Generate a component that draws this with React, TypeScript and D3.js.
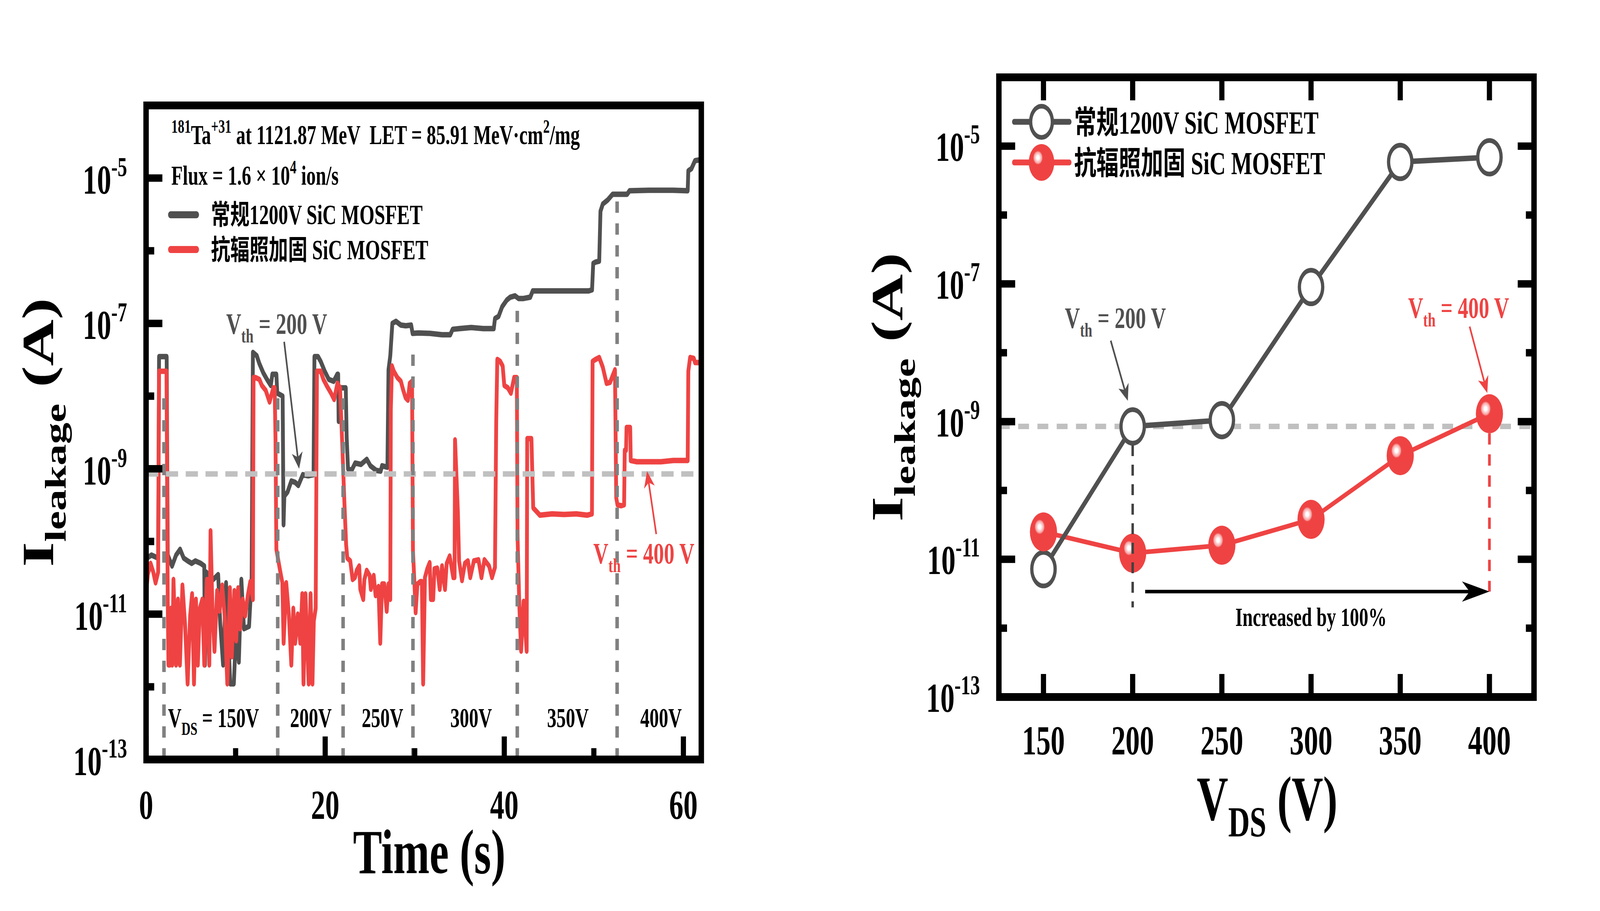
import React, { useEffect } from 'react';
import * as d3 from 'd3';

const W = 5893;
const H = 2333;
const FONT = '"Liberation Serif", "Times New Roman", "Noto Sans CJK SC", serif';
const GRAY = '#505050';
const RED = '#EF4343';
const VTH_LEVEL = 8.5e-10;

// ---- left panel: leakage current vs time ----
const CONV_TRACE: [number, number][] = [
  [0, 1.1e-11], [0.1, 5.9e-11], [0.6, 6.5e-11], [1.35, 5.9e-11], [1.45, 3.5e-8], [2.3, 3.5e-8],
  [2.42, 6.5e-11], [2.9, 4.6e-11], [3.35, 6.5e-11], [3.8, 7.8e-11], [4.2, 5.9e-11], [4.65, 5.4e-11],
  [5.1, 5e-11], [5.5, 5.4e-11], [6.1, 5e-11], [6.5, 4.6e-11], [6.57, 2e-12], [6.7, 3.8e-11],
  [7.5, 3e-11], [8.05, 3.5e-11], [8.28, 7.4e-12], [8.6, 2e-12], [8.93, 2.7e-11], [9.4, 1.1e-12],
  [9.8, 1.1e-12], [10.07, 6.8e-12], [10.36, 2.2e-12], [10.64, 3e-11], [10.93, 6.3e-12], [11.5, 6.8e-12],
  [11.79, 3.2e-11], [11.93, 4e-8], [12.36, 3.6e-8], [12.65, 2.8e-8], [13.08, 2.1e-8], [13.5, 1.7e-8],
  [13.93, 1.4e-8], [14.1, 2e-8], [14.55, 2e-8], [14.65, 1.1e-8], [15.25, 1e-8], [15.35, 1.7e-10],
  [15.44, 4.2e-10], [15.8, 4.8e-10], [16.22, 6.8e-10], [16.65, 6.5e-10], [17.0, 5.9e-10], [17.5, 8.3e-10],
  [18.1, 8e-10], [18.7, 8.3e-10], [18.8, 3.5e-8], [19.2, 3.5e-8], [19.5, 3e-8], [19.95, 2.2e-8],
  [20.4, 1.7e-8], [20.95, 1.6e-8], [21.35, 2e-8], [21.45, 2e-8], [21.5, 4.5e-9], [21.65, 1.3e-8],
  [22.3, 1.3e-8], [22.4, 2.7e-9], [22.55, 1e-9], [22.95, 9.5e-10], [23.35, 1.2e-9], [24.0, 1.15e-9],
  [24.65, 1.35e-9], [25.05, 1.1e-9], [25.7, 9.5e-10], [26.2, 9.3e-10], [26.35, 1.1e-9], [26.95, 1.05e-9],
  [27.07, 2.3e-8], [27.27, 3.6e-8], [27.5, 1e-7], [27.9, 1.07e-7], [28.45, 9.5e-8], [29.0, 9.3e-8],
  [29.6, 9.5e-8], [29.76, 7.3e-8], [30.4, 7.4e-8], [31.7, 7.3e-8], [33.05, 7e-8], [33.97, 7e-8],
  [34.23, 8.3e-8], [35.0, 8.5e-8], [36.3, 8.8e-8], [37.65, 8.5e-8], [38.83, 8.5e-8], [38.96, 1.17e-7],
  [39.36, 1.25e-7], [39.76, 1.7e-7], [40.28, 2.1e-7], [40.67, 2.3e-7], [41.2, 2.4e-7], [41.6, 2.2e-7],
  [42.1, 2.2e-7], [42.9, 2.3e-7], [43.17, 2.8e-7], [45.3, 2.8e-7], [47.4, 2.8e-7], [49.4, 2.8e-7],
  [49.8, 2.9e-7], [49.93, 6.7e-7], [50.2, 7e-7], [50.6, 7.2e-7], [50.74, 3.5e-6], [51.0, 4.4e-6],
  [51.55, 5e-6], [52.1, 6e-6], [52.64, 6e-6], [53.72, 6e-6], [53.99, 6.7e-6], [56.15, 6.8e-6],
  [58.86, 6.8e-6], [60.48, 6.7e-6], [60.55, 1.26e-5], [60.9, 1.35e-5], [61.3, 1.74e-5], [61.8, 1.78e-5],
];

const HARD_TRACE: [number, number][] = [
  [0, 1.9e-11], [0.2, 3.5e-11], [0.5, 5e-11], [0.8, 3.8e-11], [1.06, 2.7e-11], [1.35, 3.8e-11],
  [1.45, 2.2e-8], [2.28, 2.2e-8], [2.42, 1.5e-11], [2.5, 2e-12], [2.65, 2e-12], [2.78, 1.2e-11],
  [2.92, 2e-12], [3.06, 3e-11], [3.35, 2e-12], [3.56, 1.6e-11], [3.78, 2e-12], [4.06, 2.5e-11],
  [4.35, 7.4e-12], [4.64, 1.1e-12], [4.92, 9.5e-12], [5.14, 1.9e-11], [5.35, 1.1e-12], [5.57, 1.6e-11],
  [5.78, 2e-12], [6.0, 1.2e-11], [6.28, 1.6e-11], [6.5, 2e-12], [6.79, 3e-11], [7.06, 2e-12],
  [7.2, 1.4e-10], [7.43, 9.5e-12], [7.64, 3.1e-12], [7.93, 2.1e-11], [8.21, 1.1e-11], [8.5, 2.5e-11],
  [8.79, 9e-12], [9.07, 1.1e-12], [9.36, 2.3e-11], [9.57, 2.6e-12], [9.86, 2.1e-11], [10.07, 4.3e-12],
  [10.28, 2.3e-11], [10.5, 6.3e-12], [10.79, 1.6e-11], [11.07, 9.5e-12], [11.36, 1.8e-11], [11.64, 2.8e-11],
  [11.93, 1.6e-11], [12.0, 1.8e-8], [12.22, 1.8e-8], [12.65, 1.7e-8], [12.93, 1.4e-8], [13.36, 1.2e-8],
  [13.79, 8.3e-9], [14.21, 1.3e-8], [14.36, 1.3e-8], [14.45, 2.7e-9], [14.55, 7.8e-11], [14.93, 4.2e-11],
  [15.22, 2.7e-11], [15.36, 4e-12], [15.65, 2.7e-11], [15.94, 1e-11], [16.22, 2e-12], [16.44, 1.2e-11],
  [16.65, 4e-12], [16.94, 1e-11], [17.22, 4e-12], [17.44, 1.9e-11], [17.58, 1.1e-12], [17.8, 1.9e-11],
  [18.16, 1.1e-12], [18.37, 1.9e-11], [18.58, 1.1e-12], [18.73, 8e-12], [18.94, 1.2e-11], [19.08, 2.2e-8],
  [19.5, 2.2e-8], [19.8, 1.7e-8], [20.23, 1.35e-8], [20.65, 1.1e-8], [21.0, 9e-9], [21.37, 1.5e-8],
  [21.66, 1.3e-8], [21.9, 2.3e-9], [22.14, 3.6e-10], [22.34, 9e-11], [22.47, 5.9e-11], [22.8, 5.4e-11],
  [23.06, 3e-11], [23.33, 3.2e-11], [23.52, 4e-11], [23.8, 4.6e-11], [23.92, 2.2e-11], [24.25, 1.6e-11],
  [24.38, 3e-11], [24.64, 4e-11], [24.97, 3.4e-11], [25.1, 2.2e-11], [25.42, 3.4e-11], [25.63, 1.8e-11],
  [25.95, 2.4e-11], [26.15, 4e-12], [26.35, 2.6e-11], [26.6, 2.6e-11], [26.87, 1.1e-11], [27.07, 2.6e-11],
  [27.27, 1.6e-11], [27.33, 6.5e-9], [27.46, 2.6e-8], [27.66, 2.2e-8], [28.06, 1.8e-8], [28.45, 1.6e-8],
  [28.72, 1.2e-8], [28.98, 9.5e-9], [29.24, 8.8e-9], [29.44, 1.5e-8], [29.7, 1.6e-8], [29.8, 7.6e-11],
  [29.96, 2.8e-11], [30.1, 1.05e-11], [30.3, 2.6e-11], [30.62, 2.8e-11], [30.8, 2.8e-11], [30.94, 1.1e-12],
  [31.14, 3.2e-11], [31.4, 4.2e-11], [31.67, 5.1e-11], [31.8, 1.6e-11], [32.06, 1.6e-11], [32.2, 4.2e-11],
  [32.52, 4.3e-11], [32.79, 2.2e-11], [33.05, 4.6e-11], [33.38, 2.2e-11], [33.57, 5e-11], [33.9, 6.3e-11],
  [34.3, 3.2e-11], [34.45, 3.2e-11], [34.5, 2.5e-9], [34.82, 2.5e-10], [34.95, 5.4e-11], [35.28, 2.9e-11],
  [35.6, 5e-11], [35.94, 5.4e-11], [36.2, 3.2e-11], [36.6, 5.4e-11], [37.12, 5.6e-11], [37.45, 3.2e-11],
  [37.78, 5.6e-11], [38.3, 4.6e-11], [38.63, 3.2e-11], [38.96, 4.4e-11], [39.1, 4.5e-9], [39.22, 3.2e-8],
  [39.55, 3e-8], [39.82, 2.6e-8], [40.0, 1.4e-8], [40.4, 1.3e-8], [40.74, 1.1e-8], [41.1, 1.8e-8],
  [41.4, 1.8e-8], [41.48, 1.2e-10], [41.68, 1.3e-11], [41.88, 3.1e-12], [42.15, 1.5e-11], [42.5, 3.1e-12],
  [42.56, 2.6e-9], [43.03, 2.6e-9], [43.23, 2.9e-10], [43.98, 2.3e-10], [45.33, 2.4e-10], [46.68, 2.35e-10],
  [48.03, 2.4e-10], [49.25, 2.3e-10], [49.79, 2.4e-10], [49.86, 3e-8], [50.2, 3.2e-8], [50.6, 3.4e-8],
  [51.0, 2.5e-8], [51.42, 1.5e-8], [51.82, 1.55e-8], [52.09, 1.9e-8], [52.36, 2.3e-8], [52.5, 4e-10],
  [52.64, 3.2e-10], [53.04, 3.1e-10], [53.38, 3.2e-10], [53.45, 1.8e-9], [53.6, 1.8e-9], [53.65, 3.7e-9],
  [54.06, 3.7e-9], [54.12, 1.3e-9], [54.8, 1.25e-9], [56.15, 1.25e-9], [57.5, 1.25e-9], [58.86, 1.3e-9],
  [60.48, 1.3e-9], [60.55, 2.2e-8], [60.75, 3.4e-8], [61.16, 3.3e-8], [61.3, 2.9e-8], [61.85, 2.9e-8],
];

const STEP_TIMES = [2.0, 14.7, 22.0, 29.8, 41.45, 52.6];
const STEP_TOPS = [1.3e-8, 1.2e-8, 1.2e-8, 5.1e-8, 1.8e-7, 4.9e-6];
const STEP_LABELS = ['150V', '200V', '250V', '300V', '350V', '400V'];
const STEP_LABEL_T = [7.53, 18.4, 26.4, 36.3, 47.1, 57.5];
const TIME_MAJOR = [0, 20, 40, 60];
const TIME_MINOR = [10, 30, 50];

// ---- right panel: leakage vs V_DS ----
const VDS = [150, 200, 250, 300, 350, 400];
const CONV_IL = [7.2e-12, 8.5e-10, 1.05e-9, 9e-8, 5.9e-6, 6.9e-6];
const HARD_IL = [2.5e-11, 1.23e-11, 1.6e-11, 3.8e-11, 3.2e-10, 1.3e-9];

const EXP_MAJOR = [-5, -7, -9, -11, -13];
const EXP_MINOR = [-6, -8, -10, -12];

const LEGEND_CONV = '常规1200V SiC MOSFET';
const LEGEND_HARD = '抗辐照加固 SiC MOSFET';

const xL = d3.scaleLinear().domain([0, 62]).range([538, 2583]);
const yL = d3.scaleLog().domain([1e-13, 1e-4]).range([1945, 270]);
const xR = d3.scaleLinear().domain([125, 425]).range([3679, 5650]);
const yR = d3.scaleLog().domain([1e-13, 1e-4]).range([1785, 198]);

function Arrow({ x1, y1, x2, y2, color, width = 6, head = 42, half = 20, notch = 12 }: any) {
  const len = Math.hypot(x2 - x1, y2 - y1);
  const ux = (x2 - x1) / len;
  const uy = (y2 - y1) / len;
  const px = -uy;
  const py = ux;
  const bx = x2 - ux * head;
  const by = y2 - uy * head;
  const nx = x2 - ux * (head - notch);
  const ny = y2 - uy * (head - notch);
  const pts = [
    [x2, y2],
    [bx + px * half, by + py * half],
    [nx, ny],
    [bx - px * half, by - py * half],
  ];
  return (
    <g>
      <line x1={x1} y1={y1} x2={nx} y2={ny} stroke={color} strokeWidth={width} />
      <polygon points={pts.map((p) => p.join(',')).join(' ')} fill={color} />
    </g>
  );
}

function PowLabel({ x, y, exp, anchor = 'end' }: any) {
  return (
    <text x={x} y={y} textAnchor={anchor} fontSize={105} fontWeight="bold">
      10<tspan dy={-45} fontSize={70}>{exp}</tspan>
    </text>
  );
}

function Vth({ x, y, value, color }: any) {
  return (
    <text x={x} y={y} fill={color} fontSize={77} fontWeight="bold" style={{ whiteSpace: 'pre' }}>
      V<tspan dy={22} fontSize={51}>th</tspan>
      <tspan dy={-22}>{` = ${value} V`}</tspan>
    </text>
  );
}

function YTitle({ x, y }: any) {
  return (
    <text transform={`translate(${x},${y}) rotate(-90)`} textAnchor="middle"
      fontSize={165} fontWeight="bold" style={{ whiteSpace: 'pre' }}>
      I<tspan dy={46} fontSize={110}>leakage</tspan>
      <tspan dy={-46}>{' (A)'}</tspan>
    </text>
  );
}

function LeftPanel() {
  const line = d3
    .line<[number, number]>()
    .x((d) => xL(d[0]))
    .y((d) => yL(d[1]));
  const [x0, x1] = xL.range();
  const [yb, yt] = yL.range();
  return (
    <g>
      {/* traces */}
      <path d={line(CONV_TRACE) ?? ''} fill="none" stroke={GRAY} strokeWidth={14}
        strokeLinejoin="round" strokeLinecap="round" />
      <path d={line(HARD_TRACE) ?? ''} fill="none" stroke={RED} strokeWidth={14}
        strokeLinejoin="round" strokeLinecap="round" />

      {/* threshold level */}
      <line x1={x0} x2={x1} y1={yL(VTH_LEVEL)} y2={yL(VTH_LEVEL)}
        stroke="#C0C0C0" strokeWidth={14} strokeDasharray="45 28" />

      {/* V_DS step boundaries */}
      {STEP_TIMES.map((t, i) => (
        <line key={t} x1={xL(t)} x2={xL(t)} y1={yb} y2={yL(STEP_TOPS[i])}
          stroke="#808080" strokeWidth={13} strokeDasharray="29 27" />
      ))}
      {STEP_LABELS.map((s, i) => (
        <text key={s} x={xL(STEP_LABEL_T[i])} y={yL(2.8e-13)} textAnchor="middle"
          fontSize={69} fontWeight="bold" style={{ whiteSpace: 'pre' }}>
          {i === 0 ? (
            <>
              V<tspan dy={20} fontSize={46}>DS</tspan>
              <tspan dy={-20}>{` = ${s}`}</tspan>
            </>
          ) : s}
        </text>
      ))}

      {/* annotations */}
      <Vth x={xL(8.94)} y={yL(7.2e-8)} value={200} color={GRAY} />
      <Arrow x1={xL(15.42)} y1={yL(5.6e-8)} x2={xL(17.09)} y2={yL(1.0e-9)} color={GRAY} />
      <Vth x={xL(49.94)} y={yL(5e-11)} value={400} color={RED} />
      <Arrow x1={xL(56.97)} y1={yL(1.26e-10)} x2={xL(55.94)} y2={yL(9.3e-10)} color={RED} />

      {/* header */}
      <text x={631} y={369} fontSize={69} fontWeight="bold" style={{ whiteSpace: 'pre' }}>
        <tspan fontSize={48} dy={-29}>181</tspan>
        <tspan dy={29}>Ta</tspan>
        <tspan fontSize={48} dy={-29}>+31</tspan>
        <tspan dy={29}>{' at 1121.87 MeV  LET = 85.91 MeV·cm'}</tspan>
        <tspan fontSize={48} dy={-29}>2</tspan>
        <tspan dy={29}>/mg</tspan>
      </text>
      <text x={631} y={473} fontSize={69} fontWeight="bold" style={{ whiteSpace: 'pre' }}>
        {'Flux = 1.6 × 10'}
        <tspan fontSize={48} dy={-29}>4</tspan>
        <tspan dy={29}>{' ion/s'}</tspan>
      </text>

      {/* legend */}
      <line x1={628} x2={724} y1={550} y2={550} stroke={GRAY} strokeWidth={18} strokeLinecap="round" />
      <text x={777} y={574} fontSize={71} fontWeight="bold">{LEGEND_CONV}</text>
      <line x1={628} x2={724} y1={639} y2={639} stroke={RED} strokeWidth={18} strokeLinecap="round" />
      <text x={777} y={664} fontSize={71} fontWeight="bold" style={{ whiteSpace: 'pre' }}>{LEGEND_HARD}</text>

      {/* ticks */}
      {EXP_MAJOR.map((e) => (
        <g key={e}>
          <line x1={x0} x2={x0 + 60} y1={yL(10 ** e)} y2={yL(10 ** e)} stroke="#000" strokeWidth={19} />
          <PowLabel x={x0 - 70} y={yL(10 ** e) + 40} exp={e} />
        </g>
      ))}
      {EXP_MINOR.map((e) => (
        <line key={e} x1={x0} x2={x0 + 30} y1={yL(10 ** e)} y2={yL(10 ** e)} stroke="#000" strokeWidth={19} />
      ))}
      {TIME_MAJOR.map((t) => (
        <g key={t}>
          <line x1={xL(t)} x2={xL(t)} y1={yb} y2={yb - 59} stroke="#000" strokeWidth={19} />
          <text x={xL(t)} y={yb + 152} textAnchor="middle" fontSize={105} fontWeight="bold">{t}</text>
        </g>
      ))}
      {TIME_MINOR.map((t) => (
        <line key={t} x1={xL(t)} x2={xL(t)} y1={yb} y2={yb - 29} stroke="#000" strokeWidth={19} />
      ))}

      {/* frame */}
      <rect x={x0} y={yt} width={x1 - x0} height={yb - yt} fill="none" stroke="#000" strokeWidth={20} />

      {/* axis titles */}
      <text x={1581} y={2236} textAnchor="middle" fontSize={160} fontWeight="bold" style={{ whiteSpace: 'pre' }}>
        Time (s)
      </text>
      <YTitle x={196} y={(yb + yt) / 2} />
    </g>
  );
}

function RightPanel() {
  const [x0, x1] = xR.range();
  const [yb, yt] = yR.range();
  const convPts = VDS.map((v, i) => [xR(v), yR(CONV_IL[i])] as [number, number]);
  const hardPts = VDS.map((v, i) => [xR(v), yR(HARD_IL[i])] as [number, number]);
  const path = d3.line();
  return (
    <g>
      <defs>
        <radialGradient id="redBall" cx="0.36" cy="0.37" r="0.5" fx="0.36" fy="0.37">
          <stop offset="0" stopColor="#FFFFFF" />
          <stop offset="0.1" stopColor="#FFFFFF" />
          <stop offset="0.18" stopColor="#FCD6D6" />
          <stop offset="0.3" stopColor="#F7A2A2" />
          <stop offset="0.38" stopColor={RED} />
          <stop offset="1" stopColor={RED} />
        </radialGradient>
      </defs>

      {/* threshold level */}
      <line x1={x0} x2={x1} y1={yR(VTH_LEVEL)} y2={yR(VTH_LEVEL)}
        stroke="#C0C0C0" strokeWidth={14} strokeDasharray="40 31" />

      <path d={path(hardPts) ?? ''} fill="none" stroke={RED} strokeWidth={12} />
      <path d={path(convPts) ?? ''} fill="none" stroke={GRAY} strokeWidth={14} />
      {convPts.map(([cx, cy], i) => (
        <circle key={i} cx={cx} cy={cy} r={43} fill="#fff" stroke={GRAY} strokeWidth={12} />
      ))}
      {hardPts.map(([cx, cy], i) => (
        <circle key={i} cx={cx} cy={cy} r={50} fill="url(#redBall)" />
      ))}

      {/* annotation lines */}
      <line x1={xR(200)} x2={xR(200)} y1={yR(CONV_IL[1]) + 48} y2={yR(2e-12)}
        stroke="#404040" strokeWidth={9} strokeDasharray="28 22" />
      <line x1={xR(400)} x2={xR(400)} y1={yR(HARD_IL[5]) + 50} y2={yR(3.4e-12)}
        stroke={RED} strokeWidth={10} strokeDasharray="29 25" />
      <Arrow x1={xR(207)} y1={yR(3.4e-12)} x2={xR(400)} y2={yR(3.4e-12)} color="#000"
        width={9} head={101} half={26} notch={28} />
      <text x={xR(300)} y={yR(1.07e-12)} textAnchor="middle" fontSize={68} fontWeight="bold">
        Increased by 100%
      </text>
      <Vth x={xR(162)} y={yR(2.3e-8)} value={200} color={GRAY} />
      <Arrow x1={xR(187.7)} y1={yR(1.5e-8)} x2={xR(197.3)} y2={yR(2e-9)} color={GRAY} />
      <Vth x={xR(354.4)} y={yR(3.2e-8)} value={400} color={RED} />
      <Arrow x1={xR(388.9)} y1={yR(2.4e-8)} x2={xR(398.8)} y2={yR(2.6e-9)} color={RED} />

      {/* legend */}
      <line x1={3735} x2={3939} y1={312} y2={312} stroke={GRAY} strokeWidth={15} strokeLinecap="round" />
      <circle cx={3836} cy={312} r={40} fill="#fff" stroke={GRAY} strokeWidth={12} />
      <text x={3956} y={342} fontSize={82} fontWeight="bold">{LEGEND_CONV}</text>
      <line x1={3735} x2={3939} y1={416} y2={416} stroke={RED} strokeWidth={15} strokeLinecap="round" />
      <circle cx={3836} cy={416} r={47} fill="url(#redBall)" />
      <text x={3956} y={446} fontSize={82} fontWeight="bold" style={{ whiteSpace: 'pre' }}>{LEGEND_HARD}</text>

      {/* ticks, mirrored on all sides */}
      {EXP_MAJOR.map((e) => (
        <g key={e}>
          <line x1={x0} x2={x0 + 60} y1={yR(10 ** e)} y2={yR(10 ** e)} stroke="#000" strokeWidth={19} />
          <line x1={x1} x2={x1 - 60} y1={yR(10 ** e)} y2={yR(10 ** e)} stroke="#000" strokeWidth={19} />
          <PowLabel x={x0 - 70} y={yR(10 ** e) + 38} exp={e} />
        </g>
      ))}
      {EXP_MINOR.map((e) => (
        <g key={e}>
          <line x1={x0} x2={x0 + 30} y1={yR(10 ** e)} y2={yR(10 ** e)} stroke="#000" strokeWidth={19} />
          <line x1={x1} x2={x1 - 30} y1={yR(10 ** e)} y2={yR(10 ** e)} stroke="#000" strokeWidth={19} />
        </g>
      ))}
      {VDS.map((v) => (
        <g key={v}>
          <line x1={xR(v)} x2={xR(v)} y1={yb} y2={yb - 59} stroke="#000" strokeWidth={19} />
          <line x1={xR(v)} x2={xR(v)} y1={yt} y2={yt + 59} stroke="#000" strokeWidth={19} />
          <text x={xR(v)} y={yb + 147} textAnchor="middle" fontSize={105} fontWeight="bold">{v}</text>
        </g>
      ))}

      <rect x={x0} y={yt} width={x1 - x0} height={yb - yt} fill="none" stroke="#000" strokeWidth={20} />

      <text x={4408} y={2100} fontSize={160} fontWeight="bold" style={{ whiteSpace: 'pre' }}>
        V<tspan dy={42} fontSize={110}>DS</tspan>
        <tspan dy={-42}>{' (V)'}</tspan>
      </text>
      <YTitle x={3323} y={(yb + yt) / 2} />
    </g>
  );
}

export default function App() {
  useEffect(() => {
    document.body.style.margin = '0';
    document.body.style.overflow = 'hidden';
  }, []);
  // the browser caps the viewport width, so the drawing is fitted to whatever it gets
  return (
    <svg viewBox={`0 0 ${W} ${H}`} preserveAspectRatio="none"
      style={{ display: 'block', width: '100vw', height: '100vh', background: '#fff', fontFamily: FONT }}>
      <rect width={W} height={H} fill="#fff" />
      <LeftPanel />
      <RightPanel />
    </svg>
  );
}
